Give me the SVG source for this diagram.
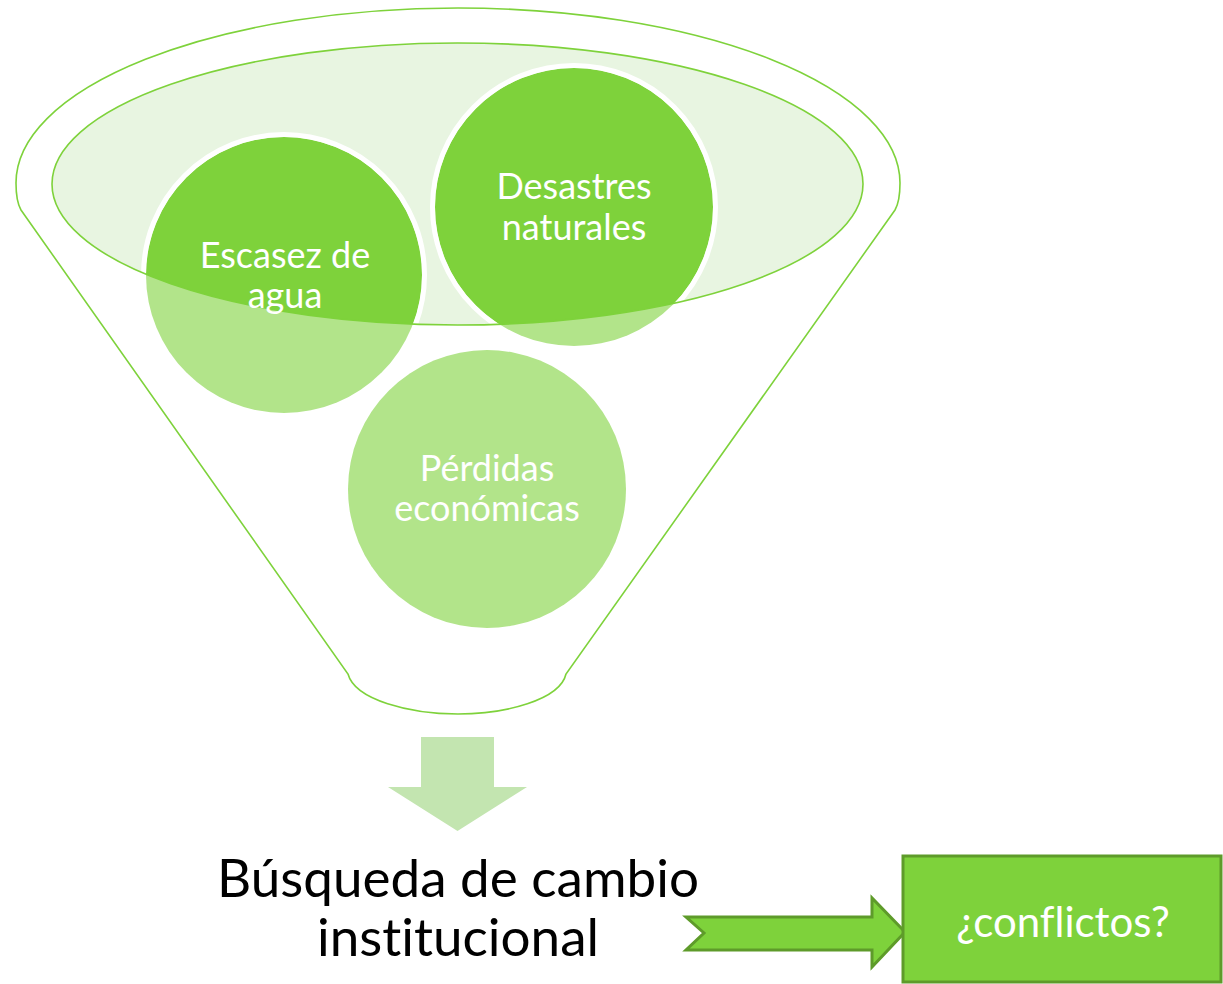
<svg xmlns="http://www.w3.org/2000/svg" width="1223" height="984" viewBox="0 0 1223 984">
<style>
.t{font-family:Lato,"Open Sans","Liberation Sans",sans-serif;text-anchor:middle;fill:#fff;font-size:36px;font-variant-ligatures:none}
.b{font-family:Lato,"Open Sans","Liberation Sans",sans-serif;text-anchor:middle;fill:#000;font-size:53px;font-variant-ligatures:none}
.light{fill:#B2E48A}
.dark{fill:#7ED23B}
.ring{fill:none;stroke:#fff;stroke-width:5}
</style>
<defs>
<clipPath id="inner"><ellipse cx="457.5" cy="184" rx="405.5" ry="141"/></clipPath>
</defs>
<g id="funnel">
<path d="M21,210 C17,203 16,193 16,183 A442,175 0 0 1 900,183 C900,193 899,203 895,210 L566,674 C560,700 505,714 458,714 C410,714 355,700 348,674 Z" fill="#fff" stroke="#7ED23B" stroke-width="1.6"/>
<ellipse cx="457.5" cy="184" rx="405.5" ry="141" fill="#E8F5E1"/>
</g>
<g id="node-perdidas">
<circle cx="487" cy="489" r="139" class="light"/>
<text class="t" x="487" y="481">Pérdidas</text>
<text class="t" x="487" y="521">económicas</text>
</g>
<g id="node-escasez">
<circle cx="284" cy="275" r="138" class="light"/>
<circle cx="284" cy="275" r="138" class="dark" clip-path="url(#inner)"/>
<circle cx="284" cy="275" r="140.5" class="ring" clip-path="url(#inner)"/>
</g>
<g id="node-desastres">
<circle cx="574" cy="207" r="139" class="light"/>
<circle cx="574" cy="207" r="139" class="dark" clip-path="url(#inner)"/>
<circle cx="574" cy="207" r="141.5" class="ring" clip-path="url(#inner)"/>
</g>
<ellipse cx="457.5" cy="184" rx="405.5" ry="141" fill="none" stroke="#7ED23B" stroke-width="1.6"/>
<g id="labels">
<text class="t" x="285" y="268">Escasez de</text>
<text class="t" x="285" y="308">agua</text>
<text class="t" x="574" y="199">Desastres</text>
<text class="t" x="574" y="240">naturales</text>
</g>
<g id="connectors">
<polygon points="421,737 494,737 494,787 527,787 457.5,831 388,787 421,787" fill="#C3E5B0"/>
<polygon points="686,917 872,917 872,898 905,932 872,967 872,950 686,950 704,933" fill="#7ED23B" stroke="#5E9B2A" stroke-width="3" stroke-linejoin="miter"/>
</g>
<g id="node-busqueda">
<text class="b" x="458" y="897">Búsqueda de cambio</text>
<text class="b" x="458" y="956">institucional</text>
</g>
<g id="node-conflictos">
<rect x="903" y="856" width="318" height="126" fill="#7ED23B" stroke="#5E9B2A" stroke-width="3"/>
<text class="t" x="1063" y="937" style="font-size:42px">¿conflictos?</text>
</g>
</svg>
